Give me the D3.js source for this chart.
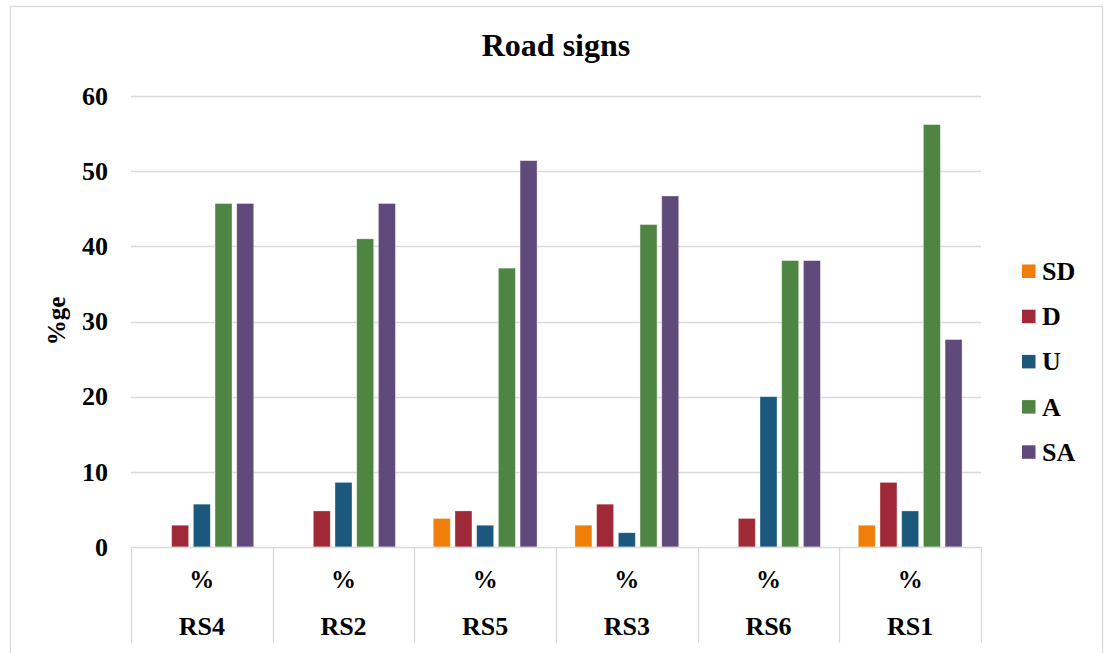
<!DOCTYPE html>
<html>
<head>
<meta charset="utf-8">
<script src="https://cdn.jsdelivr.net/npm/d3@7"></script>
<style>
  html, body { margin: 0; padding: 0; background: #fff; }
  svg { display: block; }
  text { font-family: "Liberation Serif", "Times New Roman", serif; font-weight: bold; fill: #000; }
</style>
</head>
<body>
<svg id="chart" width="1107" height="653"></svg>
<script>
// Road sign survey responses (% of respondents per rating)
const categories = ["RS4", "RS2", "RS5", "RS3", "RS6", "RS1"];
const subLabel = "%";
const seriesNames = ["SD", "D", "U", "A", "SA"];
const seriesColors = ["#f07f09", "#9f2936", "#1b587c", "#4e8542", "#604a7b"];
const SD = [0, 0, 3.8, 2.9, 0, 2.9];
const D  = [2.9, 4.8, 4.8, 5.7, 3.8, 8.6];
const U  = [5.7, 8.6, 2.9, 1.9, 20.0, 4.8];
const A  = [45.7, 41.0, 37.1, 42.9, 38.1, 56.2];
const SA = [45.7, 45.7, 51.4, 46.7, 38.1, 27.6];
const yTicks = [0, 10, 20, 30, 40, 50, 60];

const seriesValues = [SD, D, U, A, SA];

const svg = d3.select("#chart");
const plot = { left: 131, right: 981, top: 96, bottom: 547 };

// outer chart border
svg.append("rect")
  .attr("x", 10.5).attr("y", 6.5)
  .attr("width", 1092).attr("height", 660)
  .attr("fill", "none").attr("stroke", "#d9d9d9").attr("stroke-width", 1.3);

const x0 = d3.scaleBand().domain(categories).range([plot.left, plot.right]);
const x1 = d3.scaleBand().domain(seriesNames).range([0, x0.bandwidth()])
  .paddingInner(0.217).paddingOuter(0.873);
const y = d3.scaleLinear().domain([0, 60]).range([plot.bottom, plot.top]);
const color = d3.scaleOrdinal().domain(seriesNames).range(seriesColors);

// title
svg.append("text")
  .attr("x", 556).attr("y", 56)
  .attr("text-anchor", "middle")
  .style("font-size", "32px")
  .text("Road signs");

// gridlines
svg.append("g")
  .selectAll("line")
  .data(yTicks.filter(d => d > 0))
  .join("line")
  .attr("x1", plot.left).attr("x2", plot.right)
  .attr("y1", d => Math.round(y(d)) + 0.5).attr("y2", d => Math.round(y(d)) + 0.5)
  .attr("stroke", "#d9d9d9").attr("stroke-width", 1.3);

// y axis labels
const yAxis = svg.append("g")
  .attr("transform", `translate(108,0)`)
  .call(d3.axisLeft(y).tickValues(yTicks).tickSize(0).tickPadding(0));
yAxis.select(".domain").remove();
yAxis.selectAll("text")
  .style("font-size", "26px")
  .style("font-family", "'Liberation Serif', serif")
  .style("font-weight", "bold")
  .attr("fill", "#000");

// y axis title
svg.append("text")
  .attr("transform", "translate(65,321) rotate(-90)")
  .attr("text-anchor", "middle")
  .style("font-size", "25px")
  .text("%ge");

// bars
const groups = svg.append("g")
  .selectAll("g")
  .data(categories.map((c, i) => ({ cat: c, vals: seriesNames.map((s, j) => ({ s, v: seriesValues[j][i] })) })))
  .join("g")
  .attr("transform", d => `translate(${x0(d.cat)},0)`);

groups.selectAll("rect")
  .data(d => d.vals.filter(e => e.v > 0))
  .join("rect")
  .attr("x", d => x1(d.s))
  .attr("width", x1.bandwidth())
  .attr("y", d => y(d.v))
  .attr("height", d => y(0) - y(d.v))
  .attr("fill", d => color(d.s))
  .attr("stroke", "#ffffff")
  .attr("stroke-opacity", 0.45)
  .attr("stroke-width", 0.8);

// category axis: baseline and cell dividers
const catAxis = svg.append("g");
catAxis.append("line")
  .attr("x1", plot.left).attr("x2", plot.right)
  .attr("y1", plot.bottom + 0.5).attr("y2", plot.bottom + 0.5)
  .attr("stroke", "#d9d9d9").attr("stroke-width", 1.3);
const bounds = categories.map(c => x0(c)).concat([plot.right]);
catAxis.selectAll("line.div")
  .data(bounds)
  .join("line")
  .attr("class", "div")
  .attr("x1", d => Math.round(d) + 0.5).attr("x2", d => Math.round(d) + 0.5)
  .attr("y1", plot.bottom).attr("y2", 643)
  .attr("stroke", "#d9d9d9").attr("stroke-width", 1.3);

catAxis.selectAll("text.sub")
  .data(categories)
  .join("text")
  .attr("class", "sub")
  .attr("x", d => x0(d) + x0.bandwidth() / 2)
  .attr("y", 588)
  .attr("text-anchor", "middle")
  .style("font-size", "25px")
  .text(subLabel);

catAxis.selectAll("text.cat")
  .data(categories)
  .join("text")
  .attr("class", "cat")
  .attr("x", d => x0(d) + x0.bandwidth() / 2)
  .attr("y", 635)
  .attr("text-anchor", "middle")
  .style("font-size", "26px")
  .text(d => d);

// legend
const legend = svg.append("g")
  .selectAll("g")
  .data(seriesNames)
  .join("g")
  .attr("transform", (d, i) => `translate(1022,${271 + i * 45.2})`);
legend.append("rect")
  .attr("x", 0).attr("y", -6.5)
  .attr("width", 13.5).attr("height", 13.5)
  .attr("fill", d => color(d));
legend.append("text")
  .attr("x", 20).attr("y", 9)
  .style("font-size", "26px")
  .text(d => d);
</script>
</body>
</html>
